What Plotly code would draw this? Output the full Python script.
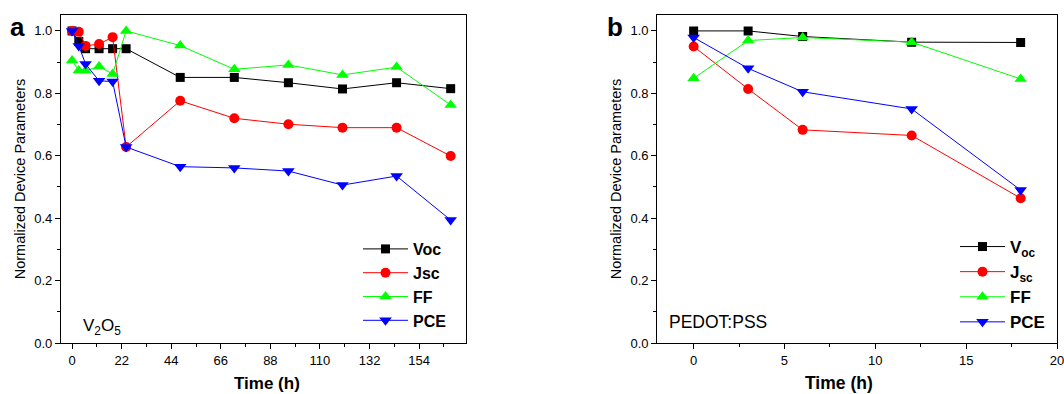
import plotly.graph_objects as go

# ---- Panel a: V2O5 ----
time_a = [0, 3, 6, 12, 18, 24, 48, 72, 96, 120, 144, 168]
voc_a = [1.0, 0.966, 0.943, 0.943, 0.943, 0.943, 0.851, 0.851, 0.834, 0.814, 0.834, 0.815]
jsc_a = [1.0, 0.997, 0.952, 0.958, 0.980, 0.628, 0.776, 0.720, 0.701, 0.690, 0.690, 0.599]
ff_a = [0.905, 0.873, 0.872, 0.886, 0.862, 1.0, 0.953, 0.877, 0.891, 0.859, 0.884, 0.763]
pce_a = [1.0, 0.952, 0.894, 0.840, 0.838, 0.628, 0.565, 0.561, 0.551, 0.506, 0.535, 0.394]

# ---- Panel b: PEDOT:PSS ----
time_b = [0, 3, 6, 12, 18]
voc_b = [1.0, 1.0, 0.982, 0.964, 0.963]
jsc_b = [0.95, 0.814, 0.683, 0.665, 0.464]
ff_b = [0.848, 0.969, 0.979, 0.964, 0.846]
pce_b = [0.979, 0.880, 0.805, 0.750, 0.490]

names_a = ["Voc", "Jsc", "FF", "PCE"]
names_b = ["V<sub>oc</sub>", "J<sub>sc</sub>", "FF", "PCE"]
colors = ["#000000", "#FF0000", "#00FF00", "#0000FF"]
symbols = ["square", "circle", "triangle-up", "triangle-down"]
sizes = [9, 10, 11, 11]

FONT = "Arial, Liberation Sans, sans-serif"
W, H = 1064, 394
ML, MR, MT, MB = 61, 7, 15, 51
PW, PH = W - ML - MR, H - MT - MB


def px_x(p):
    return (p - ML) / PW


def px_y(p):
    return (H - MB - p) / PH


fig = go.Figure()

series_a = [voc_a, jsc_a, ff_a, pce_a]
series_b = [voc_b, jsc_b, ff_b, pce_b]
for i in range(4):
    fig.add_trace(go.Scatter(
        x=time_a, y=series_a[i], name="<b>" + names_a[i] + "</b>", mode="lines+markers",
        line=dict(color=colors[i], width=1),
        marker=dict(symbol=symbols[i], size=sizes[i], color=colors[i], line=dict(width=0)),
        xaxis="x", yaxis="y", legend="legend"))
for i in range(4):
    fig.add_trace(go.Scatter(
        x=time_b, y=series_b[i], name="<b>" + names_b[i] + "</b>", mode="lines+markers",
        line=dict(color=colors[i], width=1),
        marker=dict(symbol=symbols[i], size=sizes[i], color=colors[i], line=dict(width=0)),
        xaxis="x2", yaxis="y2", legend="legend2"))

common_axis = dict(
    showline=True, linecolor="#000000", linewidth=1.3, mirror=True,
    ticks="outside", ticklen=5, tickwidth=1, tickcolor="#000000",
    showgrid=False, zeroline=False, automargin=False, ticklabeloverflow="allow",
    tickfont=dict(family=FONT, size=13, color="#000000"),
)
ytick = dict(tickmode="array", tickvals=[0, 0.2, 0.4, 0.6, 0.8, 1.0],
             ticktext=["0.0", "0.2", "0.4", "0.6", "0.8", "1.0"],
             minor=dict(tickvals=[0.1, 0.3, 0.5, 0.7, 0.9], ticklen=3, ticks="outside", tickcolor="#000000"),
             range=[0, 1.051])
ytitle = dict(text="Normalized Device Parameters", font=dict(family=FONT, size=14.5), standoff=5)

fig.update_layout(
    width=W, height=H,
    margin=dict(l=ML, r=MR, t=MT, b=MB, autoexpand=False),
    paper_bgcolor="white", plot_bgcolor="white",
    font=dict(family=FONT, color="#000000"),
    xaxis=dict(common_axis, domain=[0, px_x(466)], range=[-4.9, 174.8],
               tickmode="array", tickvals=[0, 22, 44, 66, 88, 110, 132, 154],
               minor=dict(tickvals=[11, 33, 55, 77, 99, 121, 143, 165], ticklen=3, ticks="outside", tickcolor="#000000"),
               anchor="y"),
    yaxis=dict(common_axis, **ytick, domain=[0, 1], title=ytitle, anchor="x"),
    xaxis2=dict(common_axis, domain=[px_x(657.3), 1], range=[-2, 20],
                tickmode="array", tickvals=[0, 5, 10, 15, 20],
                minor=dict(tickvals=[2.5, 7.5, 12.5, 17.5], ticklen=3, ticks="outside", tickcolor="#000000"),
                anchor="y2"),
    yaxis2=dict(common_axis, **ytick, domain=[0, 1], title=ytitle, anchor="x2"),
    legend=dict(x=px_x(358), y=px_y(232), xanchor="left", yanchor="top",
                bgcolor="rgba(0,0,0,0)", itemwidth=45, tracegroupgap=0,
                font=dict(family=FONT, size=16, color="#000000"), itemclick=False),
    legend2=dict(x=px_x(955), y=px_y(229), xanchor="left", yanchor="top",
                 bgcolor="rgba(0,0,0,0)", itemwidth=45, tracegroupgap=0,
                 font=dict(family=FONT, size=17, color="#000000"), itemclick=False),
    showlegend=True,
)

ann_font = dict(family=FONT, color="#000000")
fig.add_annotation(text="<b>Time (h)</b>", x=px_x(266.5), y=px_y(383), xref="paper", yref="paper",
                   xanchor="center", yanchor="middle", showarrow=False, font=dict(ann_font, size=17))
fig.add_annotation(text="<b>Time (h)</b>", x=px_x(839), y=px_y(383), xref="paper", yref="paper",
                   xanchor="center", yanchor="middle", showarrow=False, font=dict(ann_font, size=17.5))
fig.add_annotation(text="<b>a</b>", x=px_x(8), y=px_y(27), xref="paper", yref="paper",
                   xanchor="left", yanchor="middle", showarrow=False, font=dict(ann_font, size=26))
fig.add_annotation(text="<b>b</b>", x=px_x(605), y=px_y(27), xref="paper", yref="paper",
                   xanchor="left", yanchor="middle", showarrow=False, font=dict(ann_font, size=26))
fig.add_annotation(text="V<sub>2</sub>O<sub>5</sub>", x=px_x(81), y=px_y(327), xref="paper", yref="paper",
                   xanchor="left", yanchor="middle", showarrow=False, font=dict(ann_font, size=17))
fig.add_annotation(text="PEDOT:PSS", x=px_x(667), y=px_y(322), xref="paper", yref="paper",
                   xanchor="left", yanchor="middle", showarrow=False, font=dict(ann_font, size=17.5))

fig.write_html("out.html")
